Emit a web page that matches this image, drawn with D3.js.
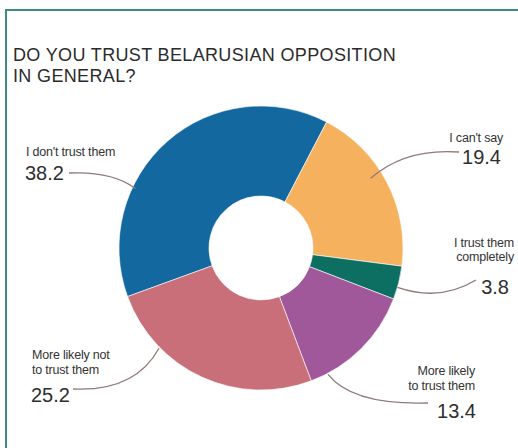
<!DOCTYPE html>
<html>
<head>
<meta charset="utf-8">
<script src="https://cdn.jsdelivr.net/npm/d3@7"></script>
<style>
  html, body { margin: 0; padding: 0; background: #fff; }
  svg { display: block; font-family: "Liberation Sans", Arial, sans-serif; }
</style>
</head>
<body>
<svg id="chart" width="518" height="448"></svg>
<script>
// Survey answers, clockwise from the left-hand "don't trust" slice
const categories = [
  "I don't trust them",
  "I can't say",
  "I trust them completely",
  "More likely to trust them",
  "More likely not to trust them"
];
const values = [38.2, 19.4, 3.8, 13.4, 25.2];
const colors = ["#13699f", "#f6b15e", "#0c6f62", "#a0589a", "#c86f79"];
const labelLines = [
  ["I don't trust them"],
  ["I can't say"],
  ["I trust them", "completely"],
  ["More likely", "to trust them"],
  ["More likely not", "to trust them"]
];
const titleLines = ["DO YOU TRUST BELARUSIAN OPPOSITION", "IN GENERAL?"];

const svg = d3.select("#chart");

// frame
svg.append("rect")
  .attr("x", 6).attr("y", 10)
  .attr("width", 540).attr("height", 470)
  .attr("fill", "none")
  .attr("stroke", "#3f8c86")
  .attr("stroke-width", 2);

// title, one text element per line
const titleY = [61, 81.5];
titleLines.forEach((s, k) => {
  svg.append("text")
    .attr("x", 13).attr("y", titleY[k])
    .attr("fill", "#2b2b2b")
    .style("font-size", "18px")
    .style("letter-spacing", "0.35px")
    .text(s);
});

// donut
const cx = 261, cy = 248, rOuter = 142, rInner = 52;
const deg = Math.PI / 180;
const start = -110 * deg;
const pie = d3.pie().sort(null).startAngle(start).endAngle(start + 2 * Math.PI);
const arcs = pie(values);
const arc = d3.arc().innerRadius(rInner).outerRadius(rOuter);

const g = svg.append("g").attr("transform", `translate(${cx},${cy})`);
g.selectAll("path.slice")
  .data(arcs)
  .join("path")
  .attr("class", "slice")
  .attr("d", arc)
  .attr("fill", (d, i) => colors[i])
  .attr("stroke", "#fff")
  .attr("stroke-width", 0.6);

// label placement: text x / anchor, baselines, leader start, curve control,
// and where along the slice the leader touches the rim
const layout = [
  { x: 26, anchor: "start", lines: [156], num: 180, nx: 25, from: [69, 173], ctrl: [112, 171], t: 0.33, r: 139 },
  { x: 503, anchor: "end", lines: [142], num: 164, nx: 501, from: [459, 152], ctrl: [405, 148], t: 0.43, r: 130 },
  { x: 514, anchor: "end", lines: [247, 261], num: 294, nx: 509, from: [476, 280], ctrl: [440, 302], t: 0.64, r: 142 },
  { x: 475, anchor: "end", lines: [375, 390], num: 418, nx: 476, from: [428, 403], ctrl: [352, 405], t: 0.85, r: 143 },
  { x: 32, anchor: "start", lines: [359, 374], num: 402, nx: 31, from: [73, 389], ctrl: [135, 392], t: 0.73, r: 143 }
];

arcs.forEach((a, i) => {
  const L = layout[i];
  const ang = a.startAngle + (a.endAngle - a.startAngle) * L.t;
  const px = cx + Math.sin(ang) * L.r;
  const py = cy - Math.cos(ang) * L.r;

  const p = d3.path();
  p.moveTo(L.from[0], L.from[1]);
  p.quadraticCurveTo(L.ctrl[0], L.ctrl[1], px, py);
  svg.append("path")
    .attr("d", p.toString())
    .attr("fill", "none")
    .attr("stroke", "#8e7a78")
    .attr("stroke-width", 1.3);

  labelLines[i].forEach((s, k) => {
    svg.append("text")
      .attr("x", L.x).attr("y", L.lines[k])
      .attr("text-anchor", L.anchor)
      .attr("fill", "#333")
      .style("font-size", "12.5px")
      .style("letter-spacing", "-0.2px")
      .text(s);
  });

  svg.append("text")
    .attr("x", L.nx).attr("y", L.num)
    .attr("text-anchor", L.anchor)
    .attr("fill", "#2e2e2e")
    .style("font-size", "20px")
    .text(d3.format(".1f")(values[i]));
});
</script>
</body>
</html>
